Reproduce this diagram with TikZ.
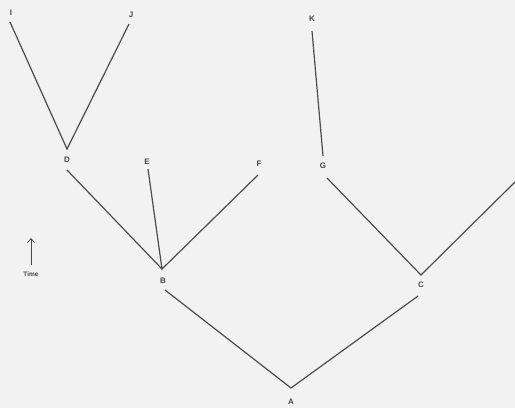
\documentclass[tikz,border=0pt]{standalone}
\usepackage{fontspec}
\setmainfont{Liberation Sans}
\usetikzlibrary{arrows.meta}
\begin{document}
\begin{tikzpicture}[x=1pt,y=-1pt,
  edge/.style={draw=black!70,line width=1.2pt},
  lbl/.style={font=\fontsize{8}{9}\selectfont\bfseries,text=black!72,inner sep=0pt}]
\fill[black!5] (0,0) rectangle (515,408);
\useasboundingbox (0,0) rectangle (515,408);
% vertices
\coordinate (vD) at (67,149);
\coordinate (vB) at (162,269);
\coordinate (vA) at (291,388);
\coordinate (vC) at (421,275);
\coordinate (tI) at (10,22);
\coordinate (tJ) at (129,24);
\coordinate (tE) at (148,169);
\coordinate (tF) at (258,175);
\coordinate (tK) at (312,31);
\coordinate (tR) at (515,182);
\coordinate (bD) at (67,170);
\coordinate (bB) at (165,290);
\coordinate (bG) at (327,178);
\coordinate (bC) at (418,296);
\coordinate (tG) at (323,156);
% labels
\node[lbl] (I) at (11,13) {I};
\node[lbl] (J) at (131,15) {J};
\node[lbl] (D) at (67,160) {D};
\node[lbl] (E) at (147,162) {E};
\node[lbl] (F) at (259,164) {F};
\node[lbl] (B) at (163,281) {B};
\node[lbl] (K) at (312,19) {K};
\node[lbl] (G) at (323,166) {G};
\node[lbl] (C) at (421,285) {C};
\node[lbl] (A) at (291,402) {A};
% edges
\draw[edge] (tI) -- (vD) -- (tJ);
\draw[edge] (bD) -- (vB);
\draw[edge] (tE) -- (vB) -- (tF);
\draw[edge] (bB) -- (vA) -- (bC);
\draw[edge] (tK) -- (tG);
\draw[edge] (bG) -- (vC) -- (tR);
% time arrow
\coordinate (ta) at (31,265);
\coordinate (tb) at (31,238);
\draw[line width=0.8pt,black!72,-{Straight Barb[length=4pt,width=7pt]}] (ta) -- (tb);
\node[lbl,font=\fontsize{6.5}{7}\selectfont\bfseries] (T) at (31,274) {Time};
\end{tikzpicture}
\end{document}
